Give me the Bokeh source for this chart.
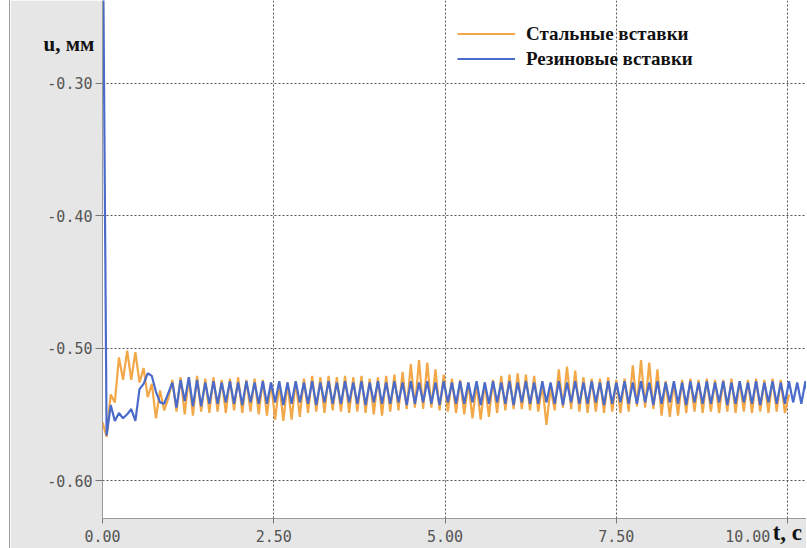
import numpy as np
from bokeh.plotting import figure
from bokeh.models import Range1d, FixedTicker, Legend, LegendItem, PrintfTickFormatter
from bokeh.embed import file_html
from bokeh.resources import INLINE

# ---- data ----
t_step = 0.06  # sampling step of both records, s

steel_u = [
    -0.556, -0.567, -0.535, -0.541, -0.507, -0.524, -0.502, -0.524, -0.503, -0.526,
    -0.515, -0.537, -0.527, -0.553, -0.532, -0.547, -0.538, -0.524, -0.548, -0.522,
    -0.550, -0.522, -0.551, -0.521, -0.548, -0.523, -0.549, -0.522, -0.548, -0.524,
    -0.549, -0.523, -0.547, -0.522, -0.549, -0.524, -0.548, -0.523, -0.550, -0.524,
    -0.551, -0.526, -0.554, -0.527, -0.555, -0.526, -0.554, -0.525, -0.552, -0.523,
    -0.549, -0.521, -0.548, -0.522, -0.549, -0.521, -0.547, -0.522, -0.548, -0.521,
    -0.549, -0.522, -0.548, -0.521, -0.549, -0.523, -0.550, -0.522, -0.551, -0.521,
    -0.548, -0.520, -0.547, -0.518, -0.546, -0.512, -0.545, -0.509, -0.546, -0.511,
    -0.545, -0.516, -0.547, -0.520, -0.548, -0.523, -0.549, -0.524, -0.550, -0.526,
    -0.553, -0.527, -0.554, -0.526, -0.552, -0.524, -0.549, -0.521, -0.547, -0.520,
    -0.546, -0.519, -0.546, -0.520, -0.547, -0.521, -0.548, -0.528, -0.558, -0.530,
    -0.547, -0.516, -0.545, -0.514, -0.546, -0.517, -0.548, -0.522, -0.549, -0.523,
    -0.548, -0.523, -0.549, -0.522, -0.548, -0.524, -0.549, -0.523, -0.548, -0.513,
    -0.544, -0.509, -0.545, -0.511, -0.546, -0.516, -0.551, -0.525, -0.552, -0.526,
    -0.551, -0.524, -0.549, -0.523, -0.548, -0.524, -0.549, -0.523, -0.548, -0.524,
    -0.549, -0.524, -0.548, -0.523, -0.549, -0.525, -0.548, -0.524, -0.549, -0.523,
    -0.548, -0.524, -0.549, -0.523, -0.548, -0.524, -0.549, -0.535,
]

rubber_u = [
    -0.140, -0.566, -0.543, -0.555, -0.549, -0.553, -0.550, -0.546, -0.555, -0.531,
    -0.527, -0.519, -0.521, -0.533, -0.541, -0.542, -0.534, -0.526, -0.545, -0.524,
    -0.540, -0.522, -0.544, -0.524, -0.544, -0.526, -0.542, -0.525, -0.542, -0.526,
    -0.541, -0.525, -0.542, -0.526, -0.543, -0.525, -0.541, -0.526, -0.542, -0.525,
    -0.542, -0.526, -0.541, -0.525, -0.543, -0.526, -0.542, -0.525, -0.541, -0.526,
    -0.542, -0.525, -0.543, -0.526, -0.541, -0.525, -0.542, -0.526, -0.542, -0.525,
    -0.541, -0.526, -0.542, -0.525, -0.543, -0.526, -0.541, -0.525, -0.542, -0.526,
    -0.542, -0.525, -0.541, -0.526, -0.543, -0.525, -0.542, -0.526, -0.541, -0.525,
    -0.542, -0.526, -0.543, -0.525, -0.541, -0.526, -0.542, -0.525, -0.542, -0.526,
    -0.541, -0.525, -0.543, -0.526, -0.542, -0.525, -0.541, -0.526, -0.542, -0.525,
    -0.543, -0.526, -0.541, -0.525, -0.542, -0.526, -0.542, -0.525, -0.541, -0.526,
    -0.542, -0.525, -0.543, -0.526, -0.541, -0.525, -0.542, -0.526, -0.542, -0.525,
    -0.541, -0.526, -0.543, -0.525, -0.542, -0.526, -0.541, -0.525, -0.542, -0.526,
    -0.542, -0.525, -0.541, -0.526, -0.543, -0.525, -0.542, -0.526, -0.541, -0.525,
    -0.542, -0.526, -0.543, -0.525, -0.541, -0.526, -0.542, -0.525, -0.542, -0.526,
    -0.541, -0.525, -0.543, -0.526, -0.542, -0.525, -0.541, -0.526, -0.542, -0.525,
    -0.543, -0.526, -0.541, -0.525, -0.542, -0.526, -0.542, -0.525, -0.541, -0.526,
    -0.542, -0.525, -0.543,
]

x_ticks = [0.0, 2.5, 5.0, 7.5, 10.0]
y_ticks = [-0.60, -0.50, -0.40, -0.30]
series_names = ["Стальные вставки", "Резиновые вставки"]
x_title = "t, с"
y_title = "u, мм"

t_steel = np.arange(len(steel_u)) * t_step
t_rubber = np.arange(len(rubber_u)) * t_step

NBSP = "\u00a0"

# ---- figure ----
p = figure(width=797, height=548,
           x_range=Range1d(0.0, 10.29), y_range=Range1d(-0.6287, -0.2374),
           output_backend="svg", toolbar_location=None,
           min_border_left=92, min_border_right=0, min_border_top=0, min_border_bottom=30)
p.styles = {"margin-left": "9px", "border-left": "1px solid #a0a0a0"}
p.border_fill_color = "#e6e6e6"
p.background_fill_color = "white"
p.outline_line_color = None

tick_font = "DejaVu Sans Mono"
title_font = "Liberation Serif"
for ax in (p.xaxis[0], p.yaxis[0]):
    ax.axis_line_color = "#9a9a9a"
    ax.major_tick_line_color = "#777777"
    ax.minor_tick_line_color = None
    ax.major_tick_in = 0
    ax.major_label_text_font = tick_font
    ax.major_label_text_font_size = "15px"
    ax.major_label_text_color = "#555555"
    ax.formatter = PrintfTickFormatter(format="%.2f")
    ax.axis_label_text_font = title_font
    ax.axis_label_text_font_style = "bold"
    ax.axis_label_text_color = "#111111"

p.xaxis.ticker = FixedTicker(ticks=x_ticks)
p.yaxis.ticker = FixedTicker(ticks=y_ticks)
p.xaxis.major_tick_out = 5
p.xaxis.major_label_standoff = 4
p.yaxis.major_tick_out = 7
p.yaxis.major_label_standoff = 3
# last x label is pushed to the left of its tick, as in the original
p.xaxis.major_label_overrides = {10: "%.2f" % x_ticks[-1] + NBSP * 4}

# axis titles: x at the right end, y horizontal near the top
p.xaxis.axis_label = x_title + NBSP * 7
p.xaxis.axis_label_align = "end"
p.xaxis.axis_label_standoff = -29
p.xaxis.axis_label_text_font_size = "23px"

p.yaxis.axis_label = (NBSP + "\n") * 3 + y_title
p.yaxis.axis_label_orientation = "horizontal"
p.yaxis.axis_label_align = "end"
p.yaxis.axis_label_standoff = -50
p.yaxis.axis_label_text_font_size = "21px"

p.grid.grid_line_color = "#555555"
p.grid.grid_line_dash = "2 2"
p.grid.grid_line_width = 1

r1 = p.line(t_steel, steel_u, line_color="#f2a848", line_width=2.2)
r2 = p.line(t_rubber, rubber_u, line_color="#4a6bc9", line_width=2.2)

legend = Legend(items=[LegendItem(label=series_names[0], renderers=[r1]),
                       LegendItem(label=series_names[1], renderers=[r2])],
                location=(355, 447), padding=0, margin=0, spacing=0,
                glyph_width=58, glyph_height=25, label_height=25, label_standoff=11,
                label_text_font=title_font, label_text_font_style="bold",
                label_text_font_size="19px", label_text_color="#111111",
                background_fill_alpha=0, border_line_color=None)
p.add_layout(legend)

open("out.html", "w").write(file_html(p, INLINE))
